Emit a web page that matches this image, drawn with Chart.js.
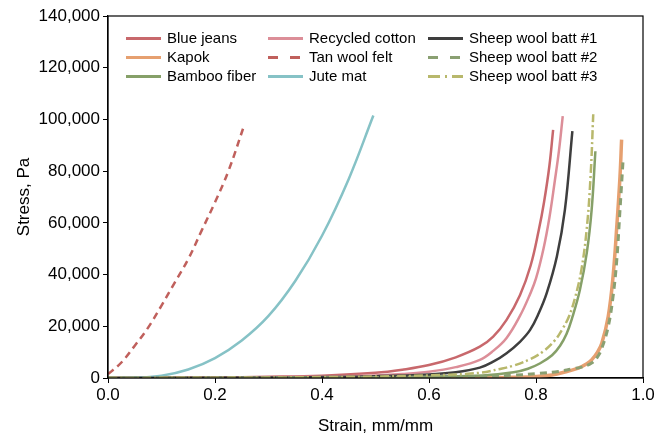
<!DOCTYPE html>
<html lang="en">
<head>
    <meta charset="UTF-8">
    <title>Stress vs Strain</title>
    <script src="https://cdn.jsdelivr.net/npm/chart.js"></script>
    <style>
        body { margin: 0; background: #fff; }
        #wrap { width: 672px; height: 437px; }
    </style>
</head>
<body>

<div id="wrap"><canvas id="stressChart"></canvas></div>

<script>
    // Values (strain in mm/mm, stress in Pa)
    const names = ['Blue jeans', 'Kapok', 'Bamboo fiber', 'Recycled cotton', 'Tan wool felt',
                   'Jute mat', 'Sheep wool batt #1', 'Sheep wool batt #2', 'Sheep wool batt #3'];

    const blueJeansX = [0, 0.1, 0.2, 0.3, 0.4, 0.5, 0.55, 0.6, 0.65, 0.695, 0.72, 0.745, 0.77, 0.79, 0.805, 0.815, 0.825, 0.832];
    const blueJeansY = [0, 50, 200, 450, 900, 2000, 3200, 5000, 8000, 12100, 16000, 22500, 32000, 43500, 57000, 68000, 82000, 96000];

    const kapokX = [0, 0.5, 0.7, 0.76, 0.8, 0.83, 0.854, 0.879, 0.895, 0.904, 0.915, 0.923, 0.935, 0.944, 0.951, 0.957, 0.96];
    const kapokY = [0, 0, 100, 300, 600, 1200, 2300, 3800, 5500, 7000, 10000, 13400, 23800, 39200, 58600, 78000, 92200];

    const bambooX = [0, 0.3, 0.5, 0.6, 0.7, 0.758, 0.785, 0.807, 0.83, 0.845, 0.857, 0.868, 0.882, 0.895, 0.904, 0.911];
    const bambooY = [0, 100, 300, 600, 1000, 2200, 3600, 5600, 8800, 12500, 17000, 23500, 34000, 48500, 65000, 87700];

    const cottonX = [0, 0.2, 0.3, 0.4, 0.5, 0.55, 0.6, 0.65, 0.695, 0.72, 0.745, 0.77, 0.789, 0.8, 0.814, 0.825, 0.835, 0.843, 0.85];
    const cottonY = [0, 100, 250, 500, 1000, 1500, 2400, 4200, 7000, 10500, 15500, 24000, 32500, 38500, 50000, 62000, 76000, 88000, 101300];

    const feltX = [0, 0.025, 0.05, 0.075, 0.1, 0.125, 0.15, 0.175, 0.2, 0.225, 0.255];
    const feltY = [1500, 6000, 12500, 19500, 28000, 37000, 46000, 57000, 68000, 80000, 98000];

    const juteX = [0, 0.05, 0.1, 0.15, 0.2, 0.25, 0.3, 0.35, 0.4, 0.45, 0.496];
    const juteY = [0, 150, 900, 3300, 7700, 14500, 24000, 37500, 55000, 77000, 101500];

    const wool1X = [0, 0.3, 0.4, 0.5, 0.6, 0.65, 0.695, 0.72, 0.745, 0.77, 0.789, 0.805, 0.82, 0.839, 0.854, 0.868];
    const wool1Y = [0, 150, 350, 700, 1400, 2200, 4000, 6300, 9600, 14000, 18600, 25000, 32800, 47000, 65000, 95500];

    const wool2X = [0, 0.4, 0.6, 0.7, 0.76, 0.807, 0.842, 0.867, 0.885, 0.904, 0.915, 0.923, 0.935, 0.944, 0.951, 0.957, 0.963];
    const wool2Y = [0, 100, 400, 600, 1100, 1800, 2500, 3500, 4200, 5800, 8200, 11500, 19900, 31500, 45700, 65000, 85100];

    const wool3X = [0, 0.3, 0.4, 0.5, 0.6, 0.695, 0.73, 0.758, 0.79, 0.814, 0.835, 0.851, 0.862, 0.873, 0.885, 0.895, 0.902, 0.907];
    const wool3Y = [0, 200, 350, 600, 1000, 2000, 3400, 4800, 7400, 10400, 14500, 19500, 24000, 31000, 42000, 58000, 78000, 102000];

    const xTicks = [0, 0.2, 0.4, 0.6, 0.8, 1.0];
    const yTicks = [0, 20000, 40000, 60000, 80000, 100000, 120000, 140000];

    const seriesX = [blueJeansX, kapokX, bambooX, cottonX, feltX, juteX, wool1X, wool2X, wool3X];
    const seriesY = [blueJeansY, kapokY, bambooY, cottonY, feltY, juteY, wool1Y, wool2Y, wool3Y];

    // Styles
    const colors = ['#c8686c', '#e6a070', '#86a068', '#dc8e98', '#c0605c', '#86c2c6', '#3e3e3e', '#8aa072', '#b8b86c'];
    const widths = [2.5, 3.5, 2.5, 2.5, 2.5, 2.5, 2.5, 3, 2.5];
    const dashes = [[], [], [], [], [7, 5], [], [], [7, 5], [9, 3, 2, 3]];
    const legendDashes = [[], [], [], [], [10, 12], [], [], [10, 12], [12, 5, 2, 5]];

    const FONT = 'Liberation Sans, Arial, sans-serif';

    const datasets = names.map((name, i) => ({
        label: name,
        data: seriesX[i].map((x, j) => ({ x: x, y: seriesY[i][j] })),
        showLine: true,
        borderColor: colors[i],
        backgroundColor: colors[i],
        borderWidth: widths[i],
        borderDash: dashes[i],
        pointRadius: 0,
        tension: 0.4,
        order: names.length - i
    }));

    // full box round the plot
    const framePlugin = {
        id: 'frame',
        afterDraw(chart) {
            const { ctx, chartArea: a } = chart;
            ctx.save();
            ctx.strokeStyle = '#000';
            ctx.lineWidth = 1.2;
            ctx.strokeRect(a.left, a.top, a.right - a.left, a.bottom - a.top);
            ctx.restore();
        }
    };

    // 3-column legend, filled column by column
    const legendPlugin = {
        id: 'gridLegend',
        afterDraw(chart) {
            const { ctx, chartArea: a } = chart;
            const colX = [18, 160, 320];
            const rowY = [22.6, 41.6, 60.6];
            ctx.save();
            ctx.font = '15px ' + FONT;
            ctx.textBaseline = 'middle';
            ctx.fillStyle = '#000';
            names.forEach((name, i) => {
                const x = a.left + colX[Math.floor(i / 3)];
                const y = a.top + rowY[i % 3];
                ctx.strokeStyle = colors[i];
                ctx.lineWidth = 3;
                ctx.setLineDash(legendDashes[i]);
                ctx.beginPath();
                ctx.moveTo(x, y);
                ctx.lineTo(x + 35, y);
                ctx.stroke();
                ctx.setLineDash([]);
                ctx.fillText(name, x + 41, y + 0.5);
            });
            ctx.restore();
        }
    };

    const ctx = document.getElementById('stressChart').getContext('2d');
    new Chart(ctx, {
        type: 'scatter',
        data: { datasets: datasets },
        plugins: [framePlugin, legendPlugin],
        options: {
            responsive: true,
            maintainAspectRatio: false,
            animation: false,
            layout: { padding: { top: 16, right: 29, left: 0, bottom: 0 } },
            plugins: {
                legend: { display: false },
                tooltip: { enabled: false }
            },
            scales: {
                x: {
                    type: 'linear',
                    min: 0,
                    max: 1,
                    afterBuildTicks: s => { s.ticks = xTicks.map(v => ({ value: v })); },
                    afterFit: s => { s.height = 59; },
                    ticks: {
                        color: '#000',
                        font: { family: FONT, size: 17 },
                        padding: 2,
                        callback: v => v.toFixed(1)
                    },
                    grid: { drawOnChartArea: false, drawTicks: true, tickLength: 5, color: '#000', lineWidth: 1 },
                    border: { display: true, color: '#000', width: 1.2 },
                    title: {
                        display: true,
                        text: 'Strain, mm/mm',
                        color: '#000',
                        font: { family: FONT, size: 17 },
                        padding: { top: 4, bottom: 0 }
                    }
                },
                y: {
                    type: 'linear',
                    min: 0,
                    max: 140000,
                    afterBuildTicks: s => { s.ticks = yTicks.map(v => ({ value: v })); },
                    afterFit: s => { s.width = 108; },
                    ticks: {
                        color: '#000',
                        font: { family: FONT, size: 17 },
                        padding: 3,
                        callback: v => v.toLocaleString('en-US')
                    },
                    grid: { drawOnChartArea: false, drawTicks: true, tickLength: 5, color: '#000', lineWidth: 1 },
                    border: { display: true, color: '#000', width: 1.2 },
                    title: {
                        display: true,
                        text: 'Stress, Pa',
                        color: '#000',
                        font: { family: FONT, size: 17 },
                        padding: { top: 14, bottom: 0 }
                    }
                }
            }
        }
    });
</script>

</body>
</html>
